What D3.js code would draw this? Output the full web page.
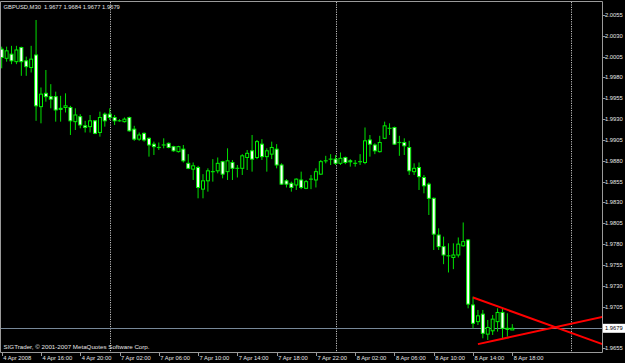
<!DOCTYPE html>
<html>
<head>
<meta charset="utf-8">
<script src="https://cdn.jsdelivr.net/npm/d3@7"></script>
<style>
  html, body { margin: 0; padding: 0; background: #000; }
  svg { display: block; }
</style>
</head>
<body>
<svg width="625" height="363"></svg>
<script>
// GBPUSD M30, 4 Apr 2008 12:00 -> 8 Apr 2008 18:00 (105 bars)
const open = [
  2.0014, 2.0003, 2.0008, 1.9999, 2.0016, 2.0000, 1.9992, 2.0007, 1.9945, 1.9961,
  1.9957, 1.9957, 1.9943, 1.9944, 1.9944, 1.9927, 1.9933, 1.9922, 1.9921, 1.9928,
  1.9914, 1.9936, 1.9936, 1.9932, 1.9928, 1.9927, 1.9932, 1.9918, 1.9906, 1.9913,
  1.9907, 1.9900, 1.9896, 1.9899, 1.9901, 1.9897, 1.9891, 1.9894, 1.9877, 1.9870,
  1.9872, 1.9846, 1.9856, 1.9867, 1.9868, 1.9879, 1.9867, 1.9878, 1.9871, 1.9871,
  1.9884, 1.9892, 1.9884, 1.9900, 1.9885, 1.9888, 1.9894, 1.9875, 1.9856, 1.9853,
  1.9851, 1.9857, 1.9847, 1.9858, 1.9857, 1.9864, 1.9880, 1.9882, 1.9882, 1.9877,
  1.9884, 1.9880, 1.9877, 1.9879, 1.9878, 1.9905, 1.9899, 1.9891, 1.9907, 1.9919,
  1.9920, 1.9902, 1.9902, 1.9896, 1.9867, 1.9872, 1.9860, 1.9852, 1.9835, 1.9791,
  1.9777, 1.9766, 1.9764, 1.9767, 1.9778, 1.9785, 1.9707, 1.9687, 1.9696, 1.9672,
  1.9676, 1.9687, 1.9698, 1.9679, 1.9677
];
const high = [
  2.0017, 2.0017, 2.0018, 2.0018, 2.0017, 2.0005, 2.0018, 2.0049, 1.9968, 1.9989,
  1.9972, 1.9963, 1.9958, 1.9961, 1.9946, 1.9943, 1.9936, 1.9928, 1.9935, 1.9929,
  1.9939, 1.9938, 1.9943, 1.9935, 1.9930, 1.9932, 1.9933, 1.9922, 1.9914, 1.9914,
  1.9908, 1.9903, 1.9902, 1.9907, 1.9902, 1.9898, 1.9898, 1.9899, 1.9888, 1.9878,
  1.9874, 1.9864, 1.9871, 1.9882, 1.9884, 1.9880, 1.9895, 1.9881, 1.9875, 1.9888,
  1.9893, 1.9911, 1.9905, 1.9906, 1.9895, 1.9903, 1.9900, 1.9877, 1.9858, 1.9855,
  1.9859, 1.9867, 1.9857, 1.9863, 1.9871, 1.9881, 1.9886, 1.9888, 1.9887, 1.9890,
  1.9885, 1.9882, 1.9881, 1.9888, 1.9920, 1.9911, 1.9901, 1.9910, 1.9927, 1.9925,
  1.9921, 1.9910, 1.9907, 1.9904, 1.9877, 1.9878, 1.9863, 1.9854, 1.9836, 1.9799,
  1.9789, 1.9781, 1.9781, 1.9788, 1.9806, 1.9786, 1.9717, 1.9701, 1.9701, 1.9689,
  1.9695, 1.9703, 1.9703, 1.9697, 1.9684
];
const low = [
  1.9991, 1.9999, 1.9996, 1.9996, 1.9982, 1.9982, 1.9986, 1.9928, 1.9925, 1.9951,
  1.9943, 1.9927, 1.9927, 1.9938, 1.9911, 1.9917, 1.9919, 1.9914, 1.9914, 1.9912,
  1.9909, 1.9921, 1.9929, 1.9923, 1.9927, 1.9926, 1.9915, 1.9904, 1.9904, 1.9903,
  1.9885, 1.9887, 1.9893, 1.9895, 1.9895, 1.9891, 1.9890, 1.9878, 1.9870, 1.9857,
  1.9835, 1.9835, 1.9843, 1.9855, 1.9865, 1.9859, 1.9857, 1.9857, 1.9860, 1.9863,
  1.9869, 1.9867, 1.9882, 1.9881, 1.9867, 1.9882, 1.9871, 1.9851, 1.9848, 1.9843,
  1.9845, 1.9846, 1.9846, 1.9846, 1.9848, 1.9863, 1.9877, 1.9875, 1.9875, 1.9875,
  1.9876, 1.9873, 1.9873, 1.9875, 1.9876, 1.9885, 1.9888, 1.9890, 1.9906, 1.9911,
  1.9899, 1.9886, 1.9887, 1.9863, 1.9863, 1.9845, 1.9841, 1.9815, 1.9773, 1.9773,
  1.9756, 1.9746, 1.9750, 1.9764, 1.9777, 1.9703, 1.9679, 1.9683, 1.9667, 1.9665,
  1.9671, 1.9675, 1.9667, 1.9669, 1.9677
];
const close = [
  2.0004, 2.0012, 2.0000, 2.0013, 1.9999, 1.9993, 2.0002, 1.9946, 1.9960, 1.9957,
  1.9954, 1.9941, 1.9942, 1.9946, 1.9928, 1.9935, 1.9923, 1.9920, 1.9928, 1.9913,
  1.9932, 1.9928, 1.9932, 1.9928, 1.9928, 1.9930, 1.9916, 1.9906, 1.9911, 1.9905,
  1.9899, 1.9897, 1.9896, 1.9899, 1.9896, 1.9892, 1.9897, 1.9880, 1.9871, 1.9874,
  1.9848, 1.9856, 1.9868, 1.9867, 1.9877, 1.9864, 1.9880, 1.9871, 1.9871, 1.9886,
  1.9889, 1.9882, 1.9903, 1.9885, 1.9892, 1.9896, 1.9875, 1.9852, 1.9852, 1.9848,
  1.9858, 1.9848, 1.9855, 1.9858, 1.9867, 1.9879, 1.9880, 1.9882, 1.9877, 1.9883,
  1.9878, 1.9879, 1.9877, 1.9879, 1.9904, 1.9900, 1.9892, 1.9902, 1.9922, 1.9919,
  1.9900, 1.9902, 1.9898, 1.9868, 1.9871, 1.9861, 1.9850, 1.9835, 1.9792, 1.9777,
  1.9767, 1.9766, 1.9767, 1.9780, 1.9783, 1.9708, 1.9685, 1.9694, 1.9673, 1.9680,
  1.9690, 1.9698, 1.9679, 1.9678, 1.9679
];

// time axis: bar index of each label
const timeTickBars = [0, 8, 16, 24, 32, 40, 48, 56, 64, 72, 80, 88, 96, 104];
const timeTickLabels = [
  "4 Apr 2008", "4 Apr 16:00", "4 Apr 20:00", "7 Apr 02:00", "7 Apr 06:00",
  "7 Apr 10:00", "7 Apr 14:00", "7 Apr 18:00", "7 Apr 22:00", "8 Apr 02:00",
  "8 Apr 06:00", "8 Apr 10:00", "8 Apr 14:00", "8 Apr 18:00"
];
// day separators (first bar of each day)
const separatorBars = [22, 68, 116];

const priceTicks = [
  2.0055, 2.0030, 2.0005, 1.9980, 1.9955, 1.9930, 1.9905, 1.9880, 1.9855,
  1.9830, 1.9805, 1.9780, 1.9755, 1.9730, 1.9705, 1.9680, 1.9655
];

const bid = 1.9679;
const title = "GBPUSD,M30  1.9677 1.9684 1.9677 1.9679";
const footer = "SIGTrader, \u00a9 2001-2007 MetaQuotes Software Corp.";

// trend lines (bar index, price), drawn as rays to the right
const trendA = [[96, 1.9716], [104, 1.9699]];
const trendB = [[97, 1.9660], [104, 1.9669]];

const svg = d3.select("svg");
const W = 625, H = 363;
const plotL = 1, plotR = 602, plotT = 2, plotB = 352;
const font = "'Liberation Sans', Arial, sans-serif";

svg.append("rect").attr("width", W).attr("height", H).attr("fill", "#000");

const x = d3.scaleLinear().domain([0, 104]).range([1.7, 512.3]);
const y = d3.scaleLinear().domain([1.9655, 2.0055]).range([348.3, 15]);

svg.append("clipPath").attr("id", "plot")
  .append("rect").attr("x", plotL).attr("y", plotT)
  .attr("width", plotR - plotL).attr("height", plotB - plotT);

const g = svg.append("g").attr("clip-path", "url(#plot)");

// day separators
g.selectAll("line.sep")
  .data(separatorBars)
  .join("line")
  .attr("class", "sep")
  .attr("x1", d => Math.round(x(d)) + 0.5)
  .attr("x2", d => Math.round(x(d)) + 0.5)
  .attr("y1", plotT).attr("y2", plotB)
  .attr("stroke", "#c0c0c0")
  .attr("stroke-width", 1)
  .attr("stroke-dasharray", "1.2,1.2");

// bid line
g.append("line")
  .attr("x1", plotL).attr("x2", plotR)
  .attr("y1", Math.round(y(bid)) + 0.5).attr("y2", Math.round(y(bid)) + 0.5)
  .attr("stroke", "#778899").attr("stroke-width", 1);

const bars = d3.range(open.length).map(i => ({
  i, o: open[i], h: high[i], l: low[i], c: close[i]
}));

// wicks
g.selectAll("line.wick")
  .data(bars)
  .join("line")
  .attr("class", "wick")
  .attr("x1", d => x(d.i)).attr("x2", d => x(d.i))
  .attr("y1", d => y(d.h)).attr("y2", d => y(d.l))
  .attr("stroke", "#00e000").attr("stroke-width", 1);

// bodies
const bodies = bars.filter(d => d.o !== d.c);
g.selectAll("rect.body")
  .data(bodies)
  .join("rect")
  .attr("class", "body")
  .attr("x", d => x(d.i) - 1.5)
  .attr("width", 3)
  .attr("y", d => y(Math.max(d.o, d.c)))
  .attr("height", d => Math.max(1, Math.abs(y(d.o) - y(d.c))))
  .attr("fill", d => d.c < d.o ? "#ffffff" : "#000000")
  .attr("stroke", "#00f000")
  .attr("stroke-width", 1);

// doji
g.selectAll("line.doji")
  .data(bars.filter(d => d.o === d.c))
  .join("line")
  .attr("class", "doji")
  .attr("x1", d => x(d.i) - 2).attr("x2", d => x(d.i) + 2)
  .attr("y1", d => y(d.o)).attr("y2", d => y(d.o))
  .attr("stroke", "#00e000").attr("stroke-width", 1.2);

// trend lines
const xEnd = x.invert(plotR + 2);
function ray(pts) {
  const [[b1, p1], [b2, p2]] = pts;
  const k = (p2 - p1) / (b2 - b1);
  return [[x(b1), y(p1)], [x(xEnd), y(p1 + k * (xEnd - b1))]];
}
[trendA, trendB].forEach(t => {
  g.append("path")
    .attr("d", d3.line()(ray(t)))
    .attr("stroke", "#ff0000")
    .attr("stroke-width", 2)
    .attr("fill", "none");
});

// frame
svg.append("path")
  .attr("d", `M${plotL - 0.5},${plotB + 0.5}V${plotT - 0.5}H${plotR + 0.5}V${plotB + 0.5}H${plotL - 0.5}`)
  .attr("fill", "none").attr("stroke", "#9a9a9a").attr("stroke-width", 1);

// price axis
const pa = svg.append("g");
pa.selectAll("line")
  .data(priceTicks)
  .join("line")
  .attr("x1", plotR + 0.5).attr("x2", plotR + 3.5)
  .attr("y1", d => Math.round(y(d)) + 0.5).attr("y2", d => Math.round(y(d)) + 0.5)
  .attr("stroke", "#9a9a9a");
pa.selectAll("text")
  .data(priceTicks)
  .join("text")
  .attr("x", 605)
  .attr("y", d => y(d) + 2)
  .attr("fill", "#e6e6e6")
  .attr("font-family", font)
  .attr("font-size", 5.8)
  .text(d => d3.format(".4f")(d));

// bid label box
const by = y(bid);
svg.append("rect")
  .attr("x", 603).attr("y", by - 4.5).attr("width", 22).attr("height", 9)
  .attr("fill", "#ffffff");
svg.append("text")
  .attr("x", 605).attr("y", by + 2)
  .attr("fill", "#000")
  .attr("font-family", font).attr("font-size", 5.8)
  .text(d3.format(".4f")(bid));

// time axis
const ta = svg.append("g");
ta.selectAll("line")
  .data(timeTickBars)
  .join("line")
  .attr("x1", d => Math.round(x(d)) + 0.5).attr("x2", d => Math.round(x(d)) + 0.5)
  .attr("y1", plotB).attr("y2", plotB + 4)
  .attr("stroke", "#9a9a9a");
ta.selectAll("text")
  .data(timeTickBars)
  .join("text")
  .attr("x", d => x(d) + 1.5)
  .attr("y", 360)
  .attr("fill", "#e6e6e6")
  .attr("font-family", font)
  .attr("font-size", 5.8)
  .text((d, i) => timeTickLabels[i]);

// labels
svg.append("text")
  .attr("x", 3.5).attr("y", 8.5)
  .attr("fill", "#e6e6e6")
  .attr("font-family", font).attr("font-size", 5.8)
  .attr("xml:space", "preserve")
  .style("white-space", "pre")
  .text(title);
svg.append("text")
  .attr("x", 3.5).attr("y", 349)
  .attr("fill", "#e6e6e6")
  .attr("font-family", font).attr("font-size", 6.2)
  .text(footer);
</script>
</body>
</html>
